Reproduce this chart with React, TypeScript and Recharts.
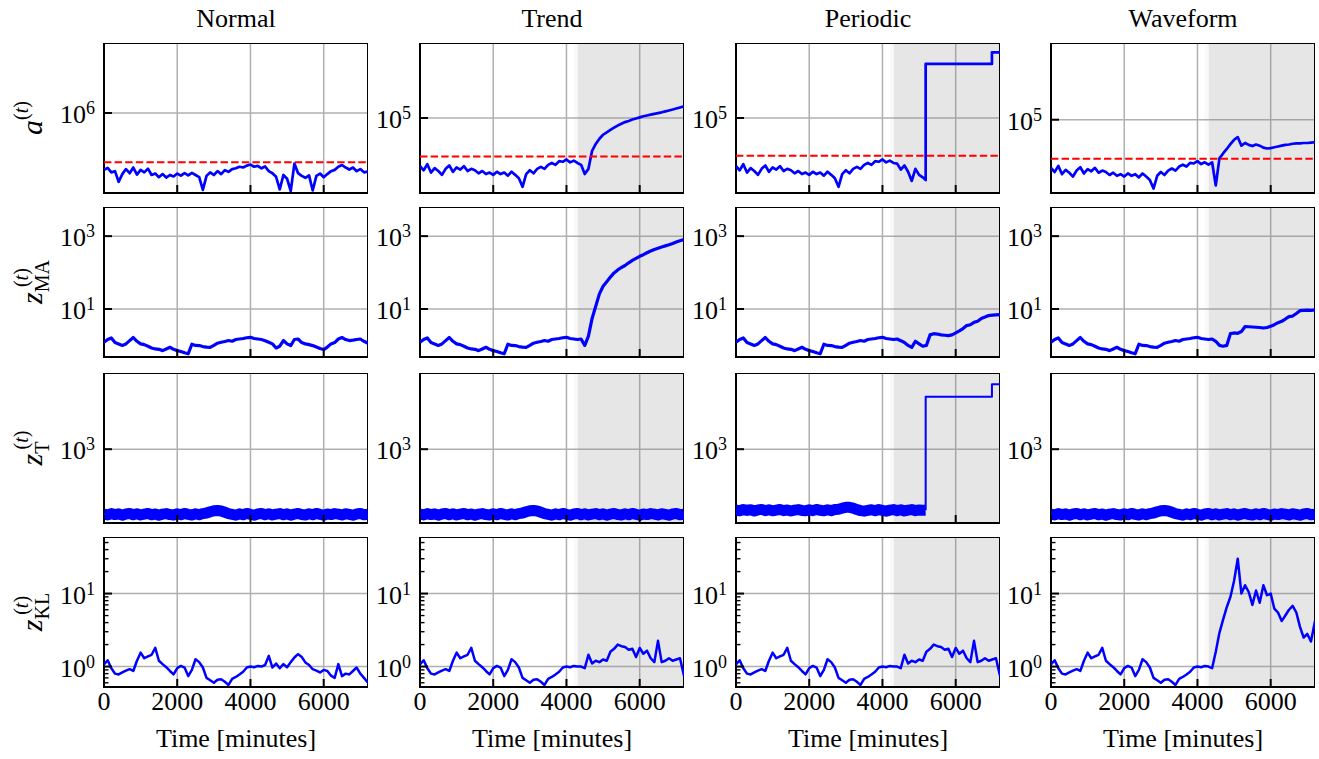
import React from 'react';
import { LineChart, Line, XAxis, YAxis, CartesianGrid, ReferenceArea, ReferenceLine } from 'recharts';

const FONT = 'Liberation Serif, Times New Roman, Times, serif';

// ---------- labels ----------
const TITLES = ['Normal', 'Trend', 'Periodic', 'Waveform'];
const X_LABEL = 'Time [minutes]';
const ROW_LABELS = [
  { nucleus: 'a', sub: '', supDx: 0 },
  { nucleus: 'z', sub: 'MA', supDx: -27 },
  { nucleus: 'z', sub: 'T', supDx: -8 },
  { nucleus: 'z', sub: 'KL', supDx: -22 },
];
const X_TICKS = [0, 2000, 4000, 6000];
const X_GRID = [2000, 4000, 6000];
const X_MAX = 7210;
const SHADE_START = 4310;
const SHADE_FADE_START = 4200;

// ---------- time grids ----------
const BASE_TIME = [0, 100, 200, 300, 400, 500, 600, 700, 800, 900, 1000, 1100, 1200, 1300, 1400, 1500, 1600, 1700, 1800, 1900, 2000, 2100, 2200, 2300, 2400, 2500, 2600, 2700, 2800, 2900, 3000, 3100, 3200, 3300, 3400, 3500, 3600, 3700, 3800, 3900, 4000, 4100, 4200, 4300];
const TAIL_TIME = [4400, 4500, 4600, 4700, 4800, 4900, 5000, 5100, 5200, 5300, 5400, 5500, 5600, 5700, 5800, 5900, 6000, 6100, 6200, 6300, 6400, 6500, 6600, 6700, 6800, 6900, 7000, 7100, 7210];

// ---------- row 1: a(t) ----------
const A_NORMAL = [271000, 282000, 255000, 262000, 205000, 245000, 275000, 250000, 285000, 242000,
  270000, 255000, 278000, 240000, 248000, 228000, 245000, 226000, 240000, 232000,
  248000, 236000, 250000, 238000, 252000, 240000, 228000, 170000, 235000, 255000,
  240000, 262000, 245000, 268000, 258000, 275000, 280000, 290000, 285000, 298000,
  305000, 290000, 296000, 280000, 292000, 262000, 250000, 230000, 172000, 240000,
  220000, 166000, 312000, 250000, 235000, 225000, 238000, 168000, 235000, 248000,
  228000, 245000, 262000, 270000, 290000, 302000, 285000, 272000, 285000, 262000,
  275000, 255000, 260000];
const A_BASE = [33000, 30000, 34500, 28500, 31500, 29500, 27000, 31000, 33500, 29000,
  32000, 30500, 33000, 29500, 31000, 30000, 28000, 29500, 27500, 28500,
  27000, 29000, 27500, 28500, 26500, 29000, 27000, 25000, 20500, 27500,
  30000, 28000, 31000, 32500, 31000, 34000, 35500, 34000, 37000, 36500,
  38500, 36000, 37500, 35500];
const A_TREND_TAIL = [34000, 27500, 31000, 47000, 55000, 62000, 68000, 72000, 76000, 80000, 84000, 87500, 91000, 93500, 96500, 99000, 101500, 104000, 106000, 108000, 110000, 112000, 114000, 116500, 119000, 121500, 124500, 127500, 131000];
const A_PERIODIC_TAIL_TIME = [4400, 4500, 4600, 4700, 4800, 4900, 5000, 5100, 5180, 5180, 5300, 5500, 5700, 5900, 6100, 6300, 6500, 6700, 6900, 6990, 6990, 7100, 7210];
const A_PERIODIC_TAIL = [35000, 30500, 33500, 29000, 23500, 31000, 27000, 25500, 24000, 347000, 347000, 347000, 347000, 347000, 347000, 347000, 347000, 347000, 347000, 347000, 454000, 454000, 454000];
const A_WAVEFORM_TAIL = [37500, 22000, 41000, 46000, 51000, 57000, 63000, 67000, 55000, 58500, 56000, 54500, 56500, 55000, 52500, 51500, 52000, 53000, 54000, 55000, 56000, 56500, 57500, 58000, 58000, 58500, 58500, 59000, 59500];
const A_THRESHOLDS = [321000, 41300, 42000, 40800];

// ---------- row 2: z_MA ----------
const Z_MA_BASE = [1.22, 1.45, 1.6, 1.2, 1.1, 1.0, 1.1, 1.35, 1.65, 1.3,
  1.1, 1.05, 0.95, 0.85, 0.8, 0.78, 0.72, 0.8, 0.89, 0.78,
  0.72, 0.68, 0.63, 0.59, 1.08, 1.0, 0.99, 0.93, 0.9, 0.88,
  1.0, 1.15, 1.22, 1.28, 1.36, 1.3, 1.45, 1.5, 1.55, 1.62,
  1.67, 1.55, 1.5, 1.45];
const Z_MA_NORMAL_TAIL = [1.35, 1.22, 1.1, 0.85, 0.95, 1.36, 1.1, 0.99, 1.45, 1.5, 1.2, 1.1, 1.05, 0.99, 0.9, 0.82, 0.77, 0.9, 1.1, 1.2, 1.5, 1.65, 1.45, 1.36, 1.4, 1.45, 1.5, 1.3, 1.15];
const Z_MA_TREND_TAIL = [1.5, 1.0, 1.8, 5.5, 12, 26, 42, 56, 75, 98, 118, 138, 156, 185, 215, 245, 280, 310, 350, 390, 430, 465, 505, 540, 580, 630, 690, 750, 810];
const Z_MA_PERIODIC_TAIL = [1.5, 1.35, 1.2, 1.0, 0.88, 1.3, 1.1, 0.95, 1.0, 1.95, 2.1, 2.05, 1.95, 1.9, 1.85, 1.95, 2.2, 2.5, 2.9, 3.5, 3.7, 4.3, 4.6, 5.5, 6.0, 6.6, 6.8, 6.9, 7.0];
const Z_MA_WAVEFORM_TAIL = [1.5, 1.3, 1.0, 0.95, 1.0, 2.1, 2.2, 2.15, 2.4, 3.3, 3.25, 3.2, 3.15, 3.1, 3.0, 3.1, 3.35, 3.7, 4.2, 4.6, 5.3, 6.2, 6.4, 7.5, 9.0, 9.2, 9.3, 9.2, 9.4];

// ---------- row 3: z_T ----------
const Z_T_BASE = [224, 220, 227, 222, 226, 219, 225, 228, 221, 226, 220, 224, 228, 221, 225, 219, 224, 227, 222, 220, 226, 221, 228, 223, 220, 226, 221, 227,
  230, 237, 242, 244, 241, 234, 227,
  223, 219, 226, 221, 228, 223, 219, 225, 228, 221, 226, 220, 224, 227, 221, 226, 219, 224, 228, 222, 220, 226, 221, 228, 223, 219, 225, 222, 227, 224, 220, 226, 223, 219, 225, 228, 221, 224];
const Z_T_PERIODIC_BAND_TIME = [0, 100, 200, 300, 400, 500, 600, 700, 800, 900, 1000, 1100, 1200, 1300, 1400, 1500, 1600, 1700, 1800, 1900, 2000, 2100, 2200, 2300, 2400, 2500, 2600, 2700, 2800, 2900, 3000, 3100, 3200, 3300, 3400, 3500, 3600, 3700, 3800, 3900, 4000, 4100, 4200, 4300, 4400, 4500, 4600, 4700, 4800, 4900, 5000, 5100, 5180];
const Z_T_PERIODIC_BAND = [246, 242, 249, 244, 248, 241, 247, 250, 243, 248, 242, 246, 250, 243, 247, 241, 246, 249, 244, 242, 248, 243, 250, 245, 242, 248, 243, 249,
  251, 257, 262, 262, 257, 249, 243,
  240, 244, 248, 242, 249, 244, 240, 246, 249, 243, 248, 241, 246, 249, 243, 247, 245,
  245];
const Z_T_PERIODIC_STEP_TIME = [5180, 5180, 6990, 6990, 7210];
const Z_T_PERIODIC_STEP = [245, 3340, 3340, 4470, 4470];

// ---------- row 4: z_KL ----------
const Z_KL_BASE = [1.07, 1.22, 0.95, 0.8, 0.78, 0.83, 0.88, 0.92, 0.87, 1.2,
  1.55, 1.3, 1.38, 1.45, 1.8, 1.2, 1.08, 0.98, 0.87, 0.78,
  0.95, 1.02, 0.97, 0.74, 0.9, 1.26, 1.15, 0.97, 0.7, 0.65,
  0.6, 0.66, 0.67, 0.62, 0.56, 0.68, 0.72, 0.78, 0.85, 0.97,
  1.0, 0.98, 1.02, 1.0];
const Z_KL_NORMAL_TAIL = [1.05, 1.4, 0.97, 1.1, 0.95, 1.08, 0.98, 1.15, 1.33, 1.48, 1.35, 1.14, 1.05, 0.92, 0.88, 0.83, 0.9, 0.87, 0.75, 0.7, 1.08, 0.74, 0.8, 0.78, 0.87, 0.97, 0.8, 0.7, 0.6];
const Z_KL_SHIFT_TAIL = [1.0, 0.95, 1.45, 1.1, 1.2, 1.15, 1.25, 1.2, 1.6, 1.75, 2.0, 1.9, 1.85, 1.7, 1.75, 1.35, 1.8, 1.5, 1.65, 1.3, 1.15, 2.25, 1.15, 1.2, 1.3, 1.2, 1.25, 1.3, 0.75];
const Z_KL_WAVEFORM_TAIL = [0.95, 1.6, 2.9, 4.4, 6.5, 9.0, 15, 30, 10, 13, 10.5, 7.0, 11, 7.5, 13, 9.5, 10, 6.2, 5.5, 4.2, 5.0, 6.0, 6.8, 5.5, 3.5, 2.5, 2.8, 2.2, 4.2];

// ---------- axis settings (log10 bounds) ----------
const ROW_EXP_BOUNDS: [number, number][][] = [
  [[5.2, 6.7], [4.25, 5.75], [4.25, 5.75], [4.267, 5.767]],
  [[-0.318, 3.8], [-0.318, 3.8], [-0.318, 3.8], [-0.318, 3.8]],
  [[2.262, 3.762], [2.262, 3.762], [2.262, 3.762], [2.262, 3.762]],
  [[-0.28, 1.775], [-0.28, 1.775], [-0.28, 1.775], [-0.28, 1.775]],
];
const KL_MINORS = [0.6, 0.7, 0.8, 0.9, 2, 3, 4, 5, 6, 7, 8, 9, 20, 30, 40, 50];
const ROW_LINE_WIDTH = [2.7, 3.2, 11, 2.5];

// ---------- layout ----------
const COL_X = [104, 420, 736, 1051];
const ROW_Y = [43, 207, 373, 537];
const PW = 264;
const PH = 150;
const YW = 70;

type Row = { t: number; [k: string]: number | null };
type Series = { key: string; width: number };
type PanelSpec = { rows: Row[]; series: Series[]; majors: number[]; minors: number[]; threshold?: number; shade: boolean };

const toRows = (times: number[], values: number[], key = 'v', other?: string): Row[] =>
  times.map((t, i) => {
    const r: Row = { t, [key]: values[i] };
    if (other) r[other] = null;
    return r;
  });

const FULL_TIME = [...BASE_TIME, ...TAIL_TIME];

function buildPanels(): PanelSpec[][] {
  const one = (w: number): Series[] => [{ key: 'v', width: w }];
  const w1 = ROW_LINE_WIDTH[0];
  const row1: PanelSpec[] = [
    { rows: toRows(FULL_TIME, A_NORMAL), series: one(w1), majors: [1e6], minors: [], threshold: A_THRESHOLDS[0], shade: false },
    { rows: toRows(FULL_TIME, [...A_BASE, ...A_TREND_TAIL]), series: one(w1), majors: [1e5], minors: [], threshold: A_THRESHOLDS[1], shade: true },
    { rows: toRows([...BASE_TIME, ...A_PERIODIC_TAIL_TIME], [...A_BASE, ...A_PERIODIC_TAIL]), series: one(w1), majors: [1e5], minors: [], threshold: A_THRESHOLDS[2], shade: true },
    { rows: toRows(FULL_TIME, [...A_BASE, ...A_WAVEFORM_TAIL]), series: one(w1), majors: [1e5], minors: [], threshold: A_THRESHOLDS[3], shade: true },
  ];
  const w2 = ROW_LINE_WIDTH[1];
  const row2: PanelSpec[] = [
    { rows: toRows(FULL_TIME, [...Z_MA_BASE, ...Z_MA_NORMAL_TAIL]), series: one(w2), majors: [10, 1000], minors: [], shade: false },
    { rows: toRows(FULL_TIME, [...Z_MA_BASE, ...Z_MA_TREND_TAIL]), series: one(w2), majors: [10, 1000], minors: [], shade: true },
    { rows: toRows(FULL_TIME, [...Z_MA_BASE, ...Z_MA_PERIODIC_TAIL]), series: one(w2), majors: [10, 1000], minors: [], shade: true },
    { rows: toRows(FULL_TIME, [...Z_MA_BASE, ...Z_MA_WAVEFORM_TAIL]), series: one(w2), majors: [10, 1000], minors: [], shade: true },
  ];
  const w3 = ROW_LINE_WIDTH[2];
  const row3: PanelSpec[] = [
    { rows: toRows(FULL_TIME, Z_T_BASE), series: one(w3), majors: [1000], minors: [], shade: false },
    { rows: toRows(FULL_TIME, Z_T_BASE), series: one(w3), majors: [1000], minors: [], shade: true },
    {
      rows: [...toRows(Z_T_PERIODIC_BAND_TIME, Z_T_PERIODIC_BAND, 'band', 'step'), ...toRows(Z_T_PERIODIC_STEP_TIME, Z_T_PERIODIC_STEP, 'step', 'band')],
      series: [{ key: 'band', width: w3 }, { key: 'step', width: 2 }], majors: [1000], minors: [], shade: true,
    },
    { rows: toRows(FULL_TIME, Z_T_BASE), series: one(w3), majors: [1000], minors: [], shade: true },
  ];
  const w4 = ROW_LINE_WIDTH[3];
  const row4: PanelSpec[] = [
    { rows: toRows(FULL_TIME, [...Z_KL_BASE, ...Z_KL_NORMAL_TAIL]), series: one(w4), majors: [1, 10], minors: KL_MINORS, shade: false },
    { rows: toRows(FULL_TIME, [...Z_KL_BASE, ...Z_KL_SHIFT_TAIL]), series: one(w4), majors: [1, 10], minors: KL_MINORS, shade: true },
    { rows: toRows(FULL_TIME, [...Z_KL_BASE, ...Z_KL_SHIFT_TAIL]), series: one(w4), majors: [1, 10], minors: KL_MINORS, shade: true },
    { rows: toRows(FULL_TIME, [...Z_KL_BASE, ...Z_KL_WAVEFORM_TAIL]), series: one(w4), majors: [1, 10], minors: KL_MINORS, shade: true },
  ];
  return [row1, row2, row3, row4];
}

const isMajor = (v: number, majors: number[]) => majors.some((m) => Math.abs(v - m) / m < 1e-6);

function YTick(props: any) {
  const { x, y, payload, majors } = props;
  const v = payload.value as number;
  const major = isMajor(v, majors);
  const exp = Math.round(Math.log10(v));
  return (
    <g>
      <line x1={x} x2={x + (major ? 8 : 4.5)} y1={y} y2={y} stroke="#000" strokeWidth={major ? 2 : 1.4} />
      {major && (
        <text x={x - 9} y={y + 10} textAnchor="end" fontSize={26} style={{ fontFamily: FONT }} fill="#000">
          10<tspan dy={-9} fontSize={18}>{exp}</tspan>
        </text>
      )}
    </g>
  );
}

function XTick(props: any) {
  const { x, y, payload, showLabel } = props;
  return (
    <g>
      <line x1={x} x2={x} y1={y} y2={y - 8} stroke="#000" strokeWidth={2} />
      {showLabel && (
        <text x={x} y={y + 23} textAnchor="middle" fontSize={26} style={{ fontFamily: FONT }} fill="#000">
          {payload.value}
        </text>
      )}
    </g>
  );
}

function Panel({ spec, row, col }: { spec: PanelSpec; row: number; col: number }) {
  const bottom = row === 3;
  const XH = bottom ? 50 : 2;
  const [eLo, eHi] = ROW_EXP_BOUNDS[row][col];
  const lo = Math.pow(10, eLo);
  const hi = Math.pow(10, eHi);
  const ticks = [...spec.majors, ...spec.minors].sort((a, b) => a - b);
  return (
    <div style={{ position: 'absolute', left: COL_X[col] - YW, top: ROW_Y[row] }}>
      <LineChart width={YW + PW} height={PH + XH} data={spec.rows} margin={{ top: 0, right: 0, bottom: 0, left: 0 }}>
        <CartesianGrid stroke="#b0b0b0" strokeWidth={1.5} horizontalValues={spec.majors} verticalValues={X_GRID} />
        <XAxis
          dataKey="t" type="number" domain={[0, X_MAX]} ticks={X_TICKS} interval={0} allowDataOverflow
          height={XH} axisLine={false} tickLine={false} tickSize={0} tickMargin={0}
          tick={(tp: any) => <XTick {...tp} showLabel={bottom} />}
        />
        <YAxis
          type="number" scale="log" domain={[lo, hi]} allowDataOverflow ticks={ticks} interval={0}
          width={YW} axisLine={false} tickLine={false} tickSize={0} tickMargin={0}
          tick={(tp: any) => <YTick {...tp} majors={spec.majors} />}
        />
        {spec.shade && <ReferenceArea x1={SHADE_FADE_START} x2={SHADE_START} fill="#808080" fillOpacity={0.05} stroke="none" />}
        {spec.shade && <ReferenceArea x1={SHADE_START} x2={X_MAX} fill="#808080" fillOpacity={0.2} stroke="none" />}
        {spec.series.map((s) => (
          <Line key={s.key} dataKey={s.key} type="linear" stroke="#0000ff" strokeWidth={s.width} dot={false} activeDot={false}
            isAnimationActive={false} connectNulls={false} strokeLinejoin="round" />
        ))}
        {spec.threshold !== undefined && (
          <ReferenceLine y={spec.threshold} stroke="#ff0000" strokeWidth={2} strokeDasharray="7.4 3.2" />
        )}
        <ReferenceArea x1={0} x2={X_MAX} y1={lo} y2={hi} fill="none" stroke="#000" strokeWidth={2} />
      </LineChart>
    </div>
  );
}

function Overlay() {
  const textStyle = { fontFamily: FONT };
  return (
    <svg width={1319} height={759} style={{ position: 'absolute', left: 0, top: 0, pointerEvents: 'none' }}>
      {TITLES.map((t, c) => (
        <text key={t} x={COL_X[c] + PW / 2} y={27} textAnchor="middle" fontSize={26} style={textStyle} fill="#000">{t}</text>
      ))}
      {TITLES.map((t, c) => (
        <text key={'xl' + t} x={COL_X[c] + PW / 2} y={747} textAnchor="middle" fontSize={26} style={textStyle} fill="#000">{X_LABEL}</text>
      ))}
      {ROW_LABELS.map((l, r) => (
        <text key={'yl' + r} transform={`translate(42, ${ROW_Y[r] + PH / 2}) rotate(-90)`} textAnchor="middle" fontSize={30} style={textStyle} fill="#000">
          <tspan fontStyle="italic">{l.nucleus}</tspan>
          {l.sub ? (
            <>
              <tspan fontSize={20} dy={7}>{l.sub}</tspan>
              <tspan fontSize={20} dx={l.supDx} dy={-21}>(<tspan fontStyle="italic">t</tspan>)</tspan>
            </>
          ) : (
            <tspan fontSize={20} dy={-14}>(<tspan fontStyle="italic">t</tspan>)</tspan>
          )}
        </text>
      ))}
    </svg>
  );
}

export default function App() {
  const panels = buildPanels();
  return (
    <div style={{ position: 'absolute', left: 0, top: 0, width: 1319, height: 759, background: '#fff', overflow: 'hidden' }}>
      {panels.map((rowSpecs, r) => rowSpecs.map((spec, c) => <Panel key={`${r}-${c}`} spec={spec} row={r} col={c} />))}
      <Overlay />
    </div>
  );
}
